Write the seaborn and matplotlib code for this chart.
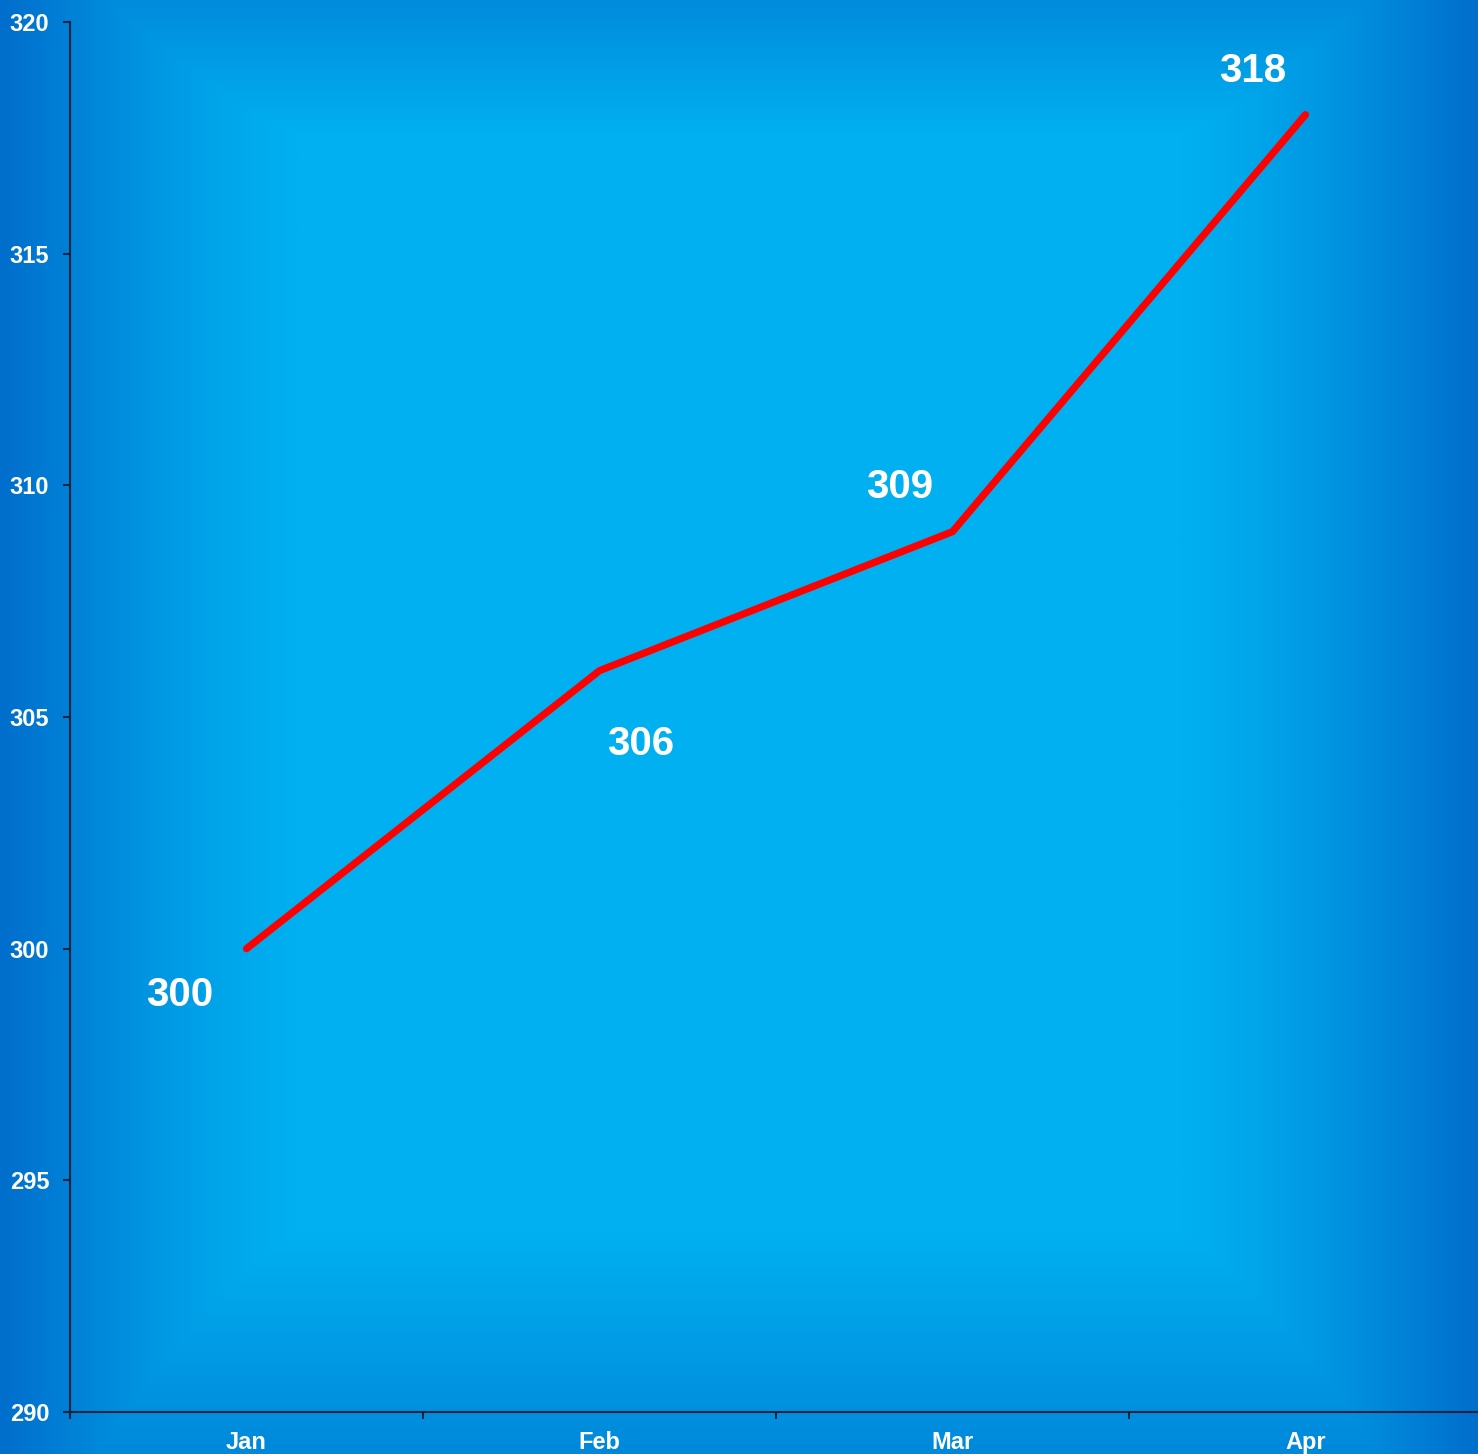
import numpy as np
import pandas as pd
import matplotlib
matplotlib.use("Agg")
import matplotlib.pyplot as plt
import seaborn as sns

# --- Datos ---
months = ["Jan", "Feb", "Mar", "Apr"]
values = [300, 306, 309, 318]
# desplazamiento de cada etiqueta respecto al punto (pixeles)
label_dx = [-67, 41, -53, -53]
label_dy = [-46, -73, 45, 44]
y_ticks = [290, 295, 300, 305, 310, 315, 320]

df = pd.DataFrame({"month": months, "value": values})

sns.set_style("white")
plt.rcParams["font.family"] = ["Liberation Sans", "DejaVu Sans"]
plt.rcParams["font.weight"] = "bold"

fig = plt.figure(figsize=(14.78, 14.54), dpi=100)

# --- Fondo degradado (claro al centro, oscuro en los bordes) ---
h, w = 400, 400
xx = np.linspace(0, 1, w)
yy = np.linspace(0, 1, h)   # 0 = arriba
X, Y = np.meshgrid(xx, yy)
tx = np.clip(1 - np.minimum(X, 1 - X) / 0.2, 0, 1) ** 1.3
t_top = np.clip(1 - Y / 0.09, 0, 1) * 0.55
t_bot = np.clip(1 - (1 - Y) / 0.15, 0, 1) * 0.6
t = np.maximum(tx, np.maximum(t_top, t_bot))
light = np.array([0, 176, 240]) / 255
dark = np.array([0, 110, 204]) / 255
img = light[None, None, :] + (dark - light)[None, None, :] * t[..., None]

ax_bg = fig.add_axes([0, 0, 1, 1], zorder=0)
ax_bg.imshow(img, aspect="auto", extent=[0, 1, 0, 1], interpolation="bilinear")
ax_bg.axis("off")

# --- Grafico principal ---
ax = fig.add_axes([70 / 1478, 1 - 1412 / 1454, 1412 / 1478, 1390 / 1454], zorder=1)
ax.set_facecolor("none")

sns.lineplot(data=df, x="month", y="value", ax=ax, color="#ff0000",
             linewidth=5.2, solid_capstyle="round", solid_joinstyle="miter", sort=False)

for i, (m, v) in enumerate(zip(months, values)):
    ax.annotate(str(v), xy=(i, v), xytext=(label_dx[i], label_dy[i]),
                textcoords="offset pixels", ha="center", va="center",
                fontsize=29, fontweight="bold", color="white")

ax.set_xlim(-0.5, len(months) - 0.5)
ax.set_ylim(290, 320)
ax.set_yticks(y_ticks)
ax.set_yticklabels([str(v) for v in y_ticks])
ax.set_xticks(np.arange(-0.5, len(months), 1.0))
ax.set_xticklabels([])
ax.set_xticks(np.arange(len(months)), minor=True)
ax.set_xticklabels(months, minor=True)
ax.set_xlabel("")
ax.set_ylabel("")

spine_color = "#0d2440"
for side in ["top", "right"]:
    ax.spines[side].set_visible(False)
for side in ["left", "bottom"]:
    ax.spines[side].set_color(spine_color)
    ax.spines[side].set_linewidth(1.5)

ax.tick_params(axis="y", which="major", direction="out", length=5, width=1.5,
               color=spine_color, labelcolor="white", labelsize=17, pad=10, left=True)
ax.tick_params(axis="x", which="major", direction="out", length=5, width=1.5,
               color=spine_color, bottom=True)
ax.tick_params(axis="x", which="minor", length=0, labelcolor="white",
               labelsize=17, pad=14)
for lbl in ax.get_yticklabels() + ax.get_xticklabels(minor=True):
    lbl.set_fontweight("bold")

plt.savefig("out.png", dpi=100)
plt.close()
